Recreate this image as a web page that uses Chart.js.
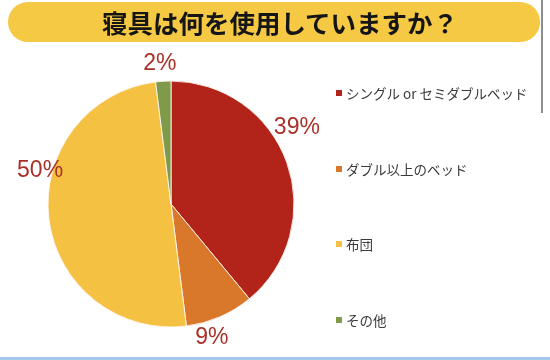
<!DOCTYPE html>
<html>
<head>
<meta charset="utf-8">
<script src="https://cdn.jsdelivr.net/npm/chart.js@4"></script>
<style>
  html, body { margin:0; padding:0; background:#fff; width:550px; height:360px; overflow:hidden; }
  #banner { position:absolute; left:8px; top:2px; width:532px; height:40px; border-radius:20px; background:#F6C944;
    font-family:"Noto Sans CJK JP", sans-serif; font-weight:700; font-size:25.5px; color:#151515;
    text-align:center; line-height:40px; letter-spacing:0px; }
  #scroll { position:absolute; left:541px; top:0; width:2px; height:113px; background:#8d8d8d; }
  #bottom { position:absolute; left:0; top:357px; width:550px; height:3px; background:#A4C8EE; }
  #wrap { position:absolute; left:0; top:0; width:550px; height:408px; }
  #legend { position:absolute; left:336px; top:55px; font-family:"Noto Sans CJK JP", sans-serif; font-size:13.5px; color:#3a3a3a; }
  #legend .row { height:75.7px; display:flex; align-items:center; white-space:nowrap; }
  #legend .box { width:6px; height:6px; margin-right:4px; flex:none; }
</style>
</head>
<body>
<div id="wrap"><canvas id="c"></canvas></div>
<div id="banner"><span style="position:relative;left:6px">寝具は何を使用していますか？</span></div>
<div id="legend"></div>
<div id="scroll"></div>
<div id="bottom"></div>
<script>
const categories = ["シングル or セミダブルベッド", "ダブル以上のベッド", "布団", "その他"];
const values = [39, 9, 50, 2];
const colors = ["#B2231A", "#D9772B", "#F4C142", "#7F9B4A"];

const labelPlugin = {
  id: 'pctLabels',
  afterDatasetsDraw(chart, args, opts) {
    const ctx = chart.ctx;
    const meta = chart.getDatasetMeta(0);
    ctx.save();
    ctx.font = opts.font;
    ctx.fillStyle = opts.color;
    ctx.textAlign = 'center';
    ctx.textBaseline = 'middle';
    meta.data.forEach((arc, i) => {
      const p = arc.getProps(['x','y','startAngle','endAngle','outerRadius'], true);
      const mid = (p.startAngle + p.endAngle) / 2 + opts.angleShift[i] * Math.PI / 180;
      const r = p.outerRadius + opts.radiusShift[i];
      ctx.fillText(values[i] + '%', p.x + Math.cos(mid) * r, p.y + Math.sin(mid) * r);
    });
    ctx.restore();
  }
};

const chart = new Chart(document.getElementById('c'), {
  type: 'pie',
  data: {
    labels: categories,
    datasets: [{ data: values, backgroundColor: colors, borderColor: 'rgba(255,245,240,0.9)', borderWidth: 1, radius: 123 }]
  },
  options: {
    responsive: true,
    maintainAspectRatio: false,
    animation: false,
    layout: { padding: { top: 0, bottom: 0, left: 0, right: 208 } },
    plugins: {
      tooltip: { enabled: false },
      legend: { display: false },
      pctLabels: {
        font: '23px "Liberation Sans", Arial, sans-serif',
        color: '#A83229',
        angleShift: [-11.3, 6.4, 21.3, -0.9],
        radiusShift: [24, 17, 12, 18]
      }
    }
  },
  plugins: [labelPlugin]
});

// HTML legend built from the chart's own legend items
const legendEl = document.getElementById('legend');
chart.options.plugins.legend.labels.generateLabels(chart).forEach(item => {
  const row = document.createElement('div');
  row.className = 'row';
  const box = document.createElement('span');
  box.className = 'box';
  box.style.background = item.fillStyle;
  const txt = document.createElement('span');
  txt.textContent = item.text;
  row.appendChild(box);
  row.appendChild(txt);
  legendEl.appendChild(row);
});
</script>
</body>
</html>
